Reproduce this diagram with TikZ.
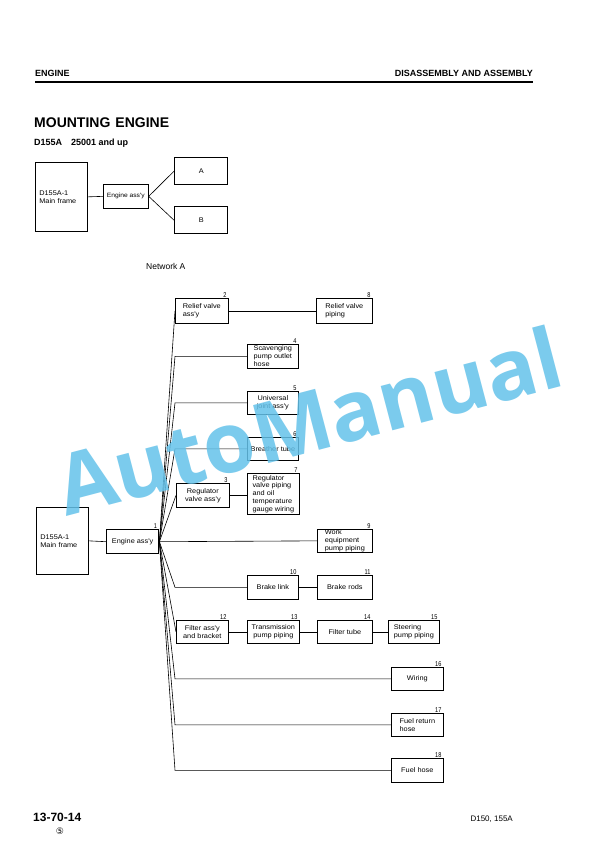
\documentclass[tikz,border=0pt]{standalone}
\usepackage{fontspec}
\setmainfont{Liberation Sans}
\newfontfamily\boxfont[FakeStretch=1.08]{Liberation Sans}
\newfontfamily\tagfont[FakeStretch=0.8]{Liberation Sans}
\newfontfamily\markfont{Open Sans}
\newfontfamily\symfont{DejaVu Sans}
\definecolor{wmblue}{RGB}{100,194,234}
\begin{document}
\begin{tikzpicture}[x=1pt, y=-1pt,
	part/.style={draw, line width=0.7pt, anchor=north west, inner xsep=2pt, inner ysep=0pt, align=left, font=\boxfont\fontsize{6.8}{7.8}\selectfont},
	heavy/.style={part, line width=1.4pt, align=center},
	tag/.style={label={[tagtext]north east:#1}},
	tagtext/.style={anchor=south east, inner sep=0.6pt, xshift=-1.5pt, font=\tagfont\fontsize{7}{7}\selectfont},
	link/.style={line width=0.6pt}]
	\fill[white] (0,0) rectangle (612,859);
	\useasboundingbox (0,0) rectangle (612,859);
	% page head
	\node[anchor=base west, inner sep=0, font=\bfseries\fontsize{9}{9}\selectfont] (head) at (35,76) {ENGINE};
	\node[anchor=base east, inner sep=0, font=\bfseries\fontsize{9}{9}\selectfont] (sect) at (533,76) {DISASSEMBLY AND ASSEMBLY};
	\draw[line width=1.1pt] (35,82) -- (533,82);
	\node[anchor=base west, inner sep=0, font=\bfseries\fontsize{14}{14}\selectfont] (title) at (34,127) {MOUNTING\hspace{5pt}ENGINE};
	\node[anchor=base west, inner sep=0, font=\bfseries\fontsize{9}{9}\selectfont] (model) at (34,145) {D155A\hspace{9pt}25001 and up};
	% overview
	\node[part, minimum width=52, minimum height=69, text width=44] (mf0) at (35,162) {D155A-1\\Main frame};
	\node[part, minimum width=45, minimum height=24, inner xsep=1pt, align=center, font=\boxfont\fontsize{6.2}{7}\selectfont] (eng0) at (103,184) {Engine ass'y};
	\node[heavy, minimum width=53, minimum height=27] (boxA) at (174,157) {A};
	\node[heavy, minimum width=53, minimum height=27] (boxB) at (174,206) {B};
	\draw[link] (mf0.east) -- (eng0.west);
	\draw[link] (eng0.east) -- (boxA.west);
	\draw[link] (eng0.east) -- (boxB.west);
	\node[anchor=base west, inner sep=0, font=\fontsize{8.5}{8.5}\selectfont] (net) at (146,269) {Network A};
	% network A
	\node[part, minimum width=52, minimum height=67, text width=44] (mf) at (36,507) {D155A-1\\Main frame};
	\node[heavy, minimum width=52, minimum height=24, tag=1] (eng) at (106,529) {Engine ass'y};
	\node[part, minimum width=53, minimum height=25, tag=2] (rva) at (175,298) {Relief valve\\ass'y};
	\node[part, minimum width=56, minimum height=25, tag=8] (rvp) at (316,298) {Relief valve\\piping};
	\node[part, minimum width=51, minimum height=24, tag=4] (sph) at (247,344) {Scavenging\\pump outlet\\hose};
	\node[part, minimum width=51, minimum height=23, tag=5, align=center] (uja) at (247,391) {Universal\\joint ass'y};
	\node[part, minimum width=51, minimum height=23, tag=6, align=center] (bt) at (247,437) {Breather tube};
	\node[part, minimum width=53, minimum height=24, tag=3, align=center] (rega) at (176,483) {Regulator\\valve ass'y};
	\node[part, minimum width=52, minimum height=41, tag=7] (regp) at (247,473) {Regulator\\valve piping\\and oil\\temperature\\gauge wiring};
	\node[part, minimum width=55, minimum height=23, tag=9] (wep) at (317,529) {Work\\equipment\\pump piping};
	\node[part, minimum width=51, minimum height=24, tag=10, align=center] (bl) at (247,575) {Brake link};
	\node[part, minimum width=55, minimum height=24, tag=11, align=center] (br) at (317,575) {Brake rods};
	\node[part, minimum width=52, minimum height=23, tag=12, align=center] (fab) at (176,620) {Filter ass'y\\and bracket};
	\node[part, minimum width=52, minimum height=23, tag=13, align=center] (tpp) at (247,620) {Transmission\\pump piping};
	\node[part, minimum width=55, minimum height=23, tag=14, align=center] (ft) at (317,620) {Filter tube};
	\node[part, minimum width=51, minimum height=23, tag=15] (spp) at (388,620) {Steering\\pump piping};
	\node[part, minimum width=52, minimum height=23, tag=16, align=center] (wir) at (391,667) {Wiring};
	\node[part, minimum width=52, minimum height=23, tag=17] (frh) at (391,713) {Fuel return\\hose};
	\node[part, minimum width=52, minimum height=24, tag=18, align=center] (fh) at (391,758) {Fuel hose};
	\draw[link] (mf.east) -- (eng.west);
	\draw[link] (eng.east) -- (wep.west);
	\foreach \t in {rva,rega,fab}
		\draw[link] (eng.east) -- (\t.west);
	\foreach \t in {sph,uja,bt,bl,wir,frh,fh}
		\draw[link] (eng.east) -- (\t.west -| rva.west) -- (\t.west);
	\draw[link] (rva.east) -- (rvp.west);
	\draw[link] (rega.east) -- (rega.east -| regp.west);
	\draw[link] (bl.east) -- (br.west);
	\draw[link] (fab.east) -- (tpp.west);
	\draw[link] (tpp.east) -- (ft.west);
	\draw[link] (ft.east) -- (spp.west);
	% page foot
	\node[anchor=base west, inner sep=0, font=\bfseries\fontsize{12}{12}\selectfont] (page) at (33,821) {13-70-14};
	\node[inner sep=0, font=\symfont\fontsize{9}{9}\selectfont] (issue) at (60,831) {⑤};
	\node[anchor=base east, inner sep=0, font=\fontsize{8}{8}\selectfont] (models) at (513,821) {D150, 155A};
	% watermark
	\node[anchor=base west, inner sep=0, rotate=14.7, text=wmblue, opacity=0.85, font=\markfont\bfseries\fontsize{84}{84}\selectfont] (mark) at (66,517) {AutoManual};
\end{tikzpicture}
\end{document}
